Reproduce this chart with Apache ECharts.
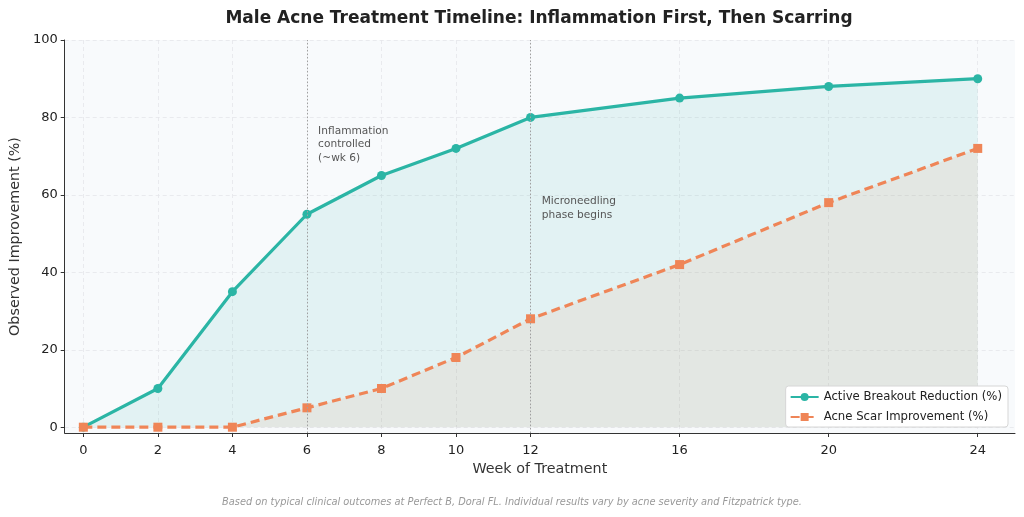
<!DOCTYPE html>
<html>
<head>
<meta charset="utf-8">
<script src="https://cdn.jsdelivr.net/npm/echarts@6/dist/echarts.min.js"></script>
<style>
html, body { margin: 0; padding: 0; background: #fff; }
#chart { width: 1024px; height: 517px; }
</style>
</head>
<body>
<div id="chart"></div>
<script>
// data
const weeks = [0, 2, 4, 6, 8, 10, 12, 16, 20, 24];
const breakout = [0, 10, 35, 55, 65, 72, 80, 85, 88, 90];
const scar = [0, 0, 0, 5, 10, 18, 28, 42, 58, 72];
const yTicks = [0, 20, 40, 60, 80, 100];
const phaseWeeks = [6, 12];

const teal = '#2bb5a5';
const orange = '#ef8557';
const font = 'DejaVu Sans';

const chart = echarts.init(document.getElementById('chart'));

const option = {
    animation: false,
    textStyle: { fontFamily: font },
    title: {
        text: 'Male Acne Treatment Timeline: Inflammation First, Then Scarring',
        left: 534, top: 5, textAlign: 'center',
        textStyle: { fontSize: 17, fontWeight: 'bold', color: '#222', fontFamily: font }
    },
    grid: { left: 63, right: 9, top: 40, bottom: 84, show: true, backgroundColor: '#f8fafc', borderWidth: 0 },
    legend: {
        right: 16, bottom: 90, orient: 'vertical', z: 10,
        backgroundColor: '#ffffff', borderColor: '#d6d6d6', borderWidth: 1, borderRadius: 3,
        padding: [5, 6, 4, 4], itemGap: 8, itemWidth: 28, itemHeight: 10,
        textStyle: { fontSize: 11.7, color: '#222', fontFamily: font }
    },
    xAxis: {
        type: 'value', min: -0.5, max: 25,
        name: 'Week of Treatment', nameLocation: 'middle', nameGap: 28,
        nameTextStyle: { fontSize: 14.3, color: '#333', fontFamily: font },
        axisLine: { onZero: false, lineStyle: { color: '#333', width: 1 } },
        axisTick: { show: true, length: 4, customValues: weeks, lineStyle: { color: '#333' } },
        axisLabel: { customValues: weeks, fontSize: 13, color: '#222', margin: 11 },
        splitLine: { show: true, lineStyle: { color: '#e4e6ea', type: [4, 3], width: 0.8 } }
    },
    yAxis: {
        type: 'value', min: -1.5, max: 100,
        name: 'Observed Improvement (%)', nameLocation: 'middle', nameGap: 39,
        nameTextStyle: { fontSize: 14.3, color: '#333', fontFamily: font },
        axisLine: { show: true, onZero: false, lineStyle: { color: '#333', width: 1 } },
        axisTick: { show: true, length: 4, customValues: yTicks, lineStyle: { color: '#333' } },
        axisLabel: { customValues: yTicks, fontSize: 13, color: '#222', margin: 7 },
        splitLine: { show: true, lineStyle: { color: '#e4e6ea', type: [4, 3], width: 0.8 } }
    },
    series: [
        {
            name: 'Active Breakout Reduction (%)',
            type: 'line',
            data: weeks.map((w, i) => [w, breakout[i]]),
            symbol: 'circle', symbolSize: 9,
            lineStyle: { color: teal, width: 3.2 },
            itemStyle: { color: teal },
            areaStyle: { color: teal, opacity: 0.1, origin: 'auto' },
            z: 3,
            markLine: {
                silent: true, symbol: 'none', label: { show: false },
                lineStyle: { color: '#a0a0a0', type: [1.5, 2], width: 1 },
                data: phaseWeeks.map(w => ({ xAxis: w }))
            },
            markPoint: {
                silent: true, symbol: 'circle', symbolSize: 0,
                label: { show: true, position: 'inside', align: 'left', verticalAlign: 'top', fontSize: 10.6, lineHeight: 13.5, color: '#555', fontFamily: font },
                data: [
                    { coord: [6.3, 78.2], value: 'Inflammation\ncontrolled\n(~wk 6)' },
                    { coord: [12.3, 60], value: 'Microneedling\nphase begins' }
                ]
            }
        },
        {
            name: 'Acne Scar Improvement (%)',
            type: 'line',
            data: weeks.map((w, i) => [w, scar[i]]),
            symbol: 'rect', symbolSize: 9,
            lineStyle: { color: orange, width: 3.2, type: [9, 5] },
            itemStyle: { color: orange },
            areaStyle: { color: orange, opacity: 0.1, origin: 'auto' },
            z: 4
        }
    ],
    graphic: [{
        type: 'text', left: 'center', top: 497,
        style: {
            text: 'Based on typical clinical outcomes at Perfect B, Doral FL. Individual results vary by acne severity and Fitzpatrick type.',
            fontSize: 9.8, fontStyle: 'italic', fill: '#999', fontFamily: font
        }
    }]
};

chart.setOption(option);
</script>
</body>
</html>
